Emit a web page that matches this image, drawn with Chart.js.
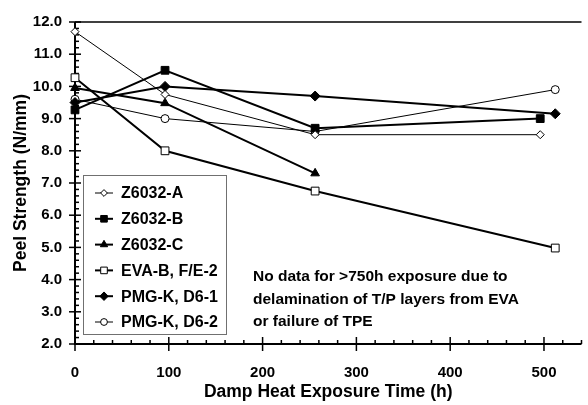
<!DOCTYPE html>
<html>
<head>
<meta charset="utf-8">
<script src="https://cdn.jsdelivr.net/npm/chart.js@4/dist/chart.umd.min.js"></script>
<style>
html,body{margin:0;padding:0;background:#fff}
</style>
</head>
<body>
<canvas id="c" width="588" height="405"></canvas>
<script>
var FONT="'Liberation Sans', Arial, Helvetica, sans-serif";

// exposure times (h)
var hours4=[0,96,256,496];
var hoursEnd=[0,96,256,512];
var hours3=[0,96,256];

// peel strength (N/mm)
var z6032A=[11.7,9.75,8.5,8.5];
var z6032B=[9.27,10.5,8.7,9.0];
var z6032C=[9.95,9.48,7.3];
var evaB=[10.27,8.0,6.75,4.98];
var pmgD61=[9.5,10.0,9.7,9.15];
var pmgD62=[9.6,9.0,8.6,9.9];

var seriesNames=["Z6032-A","Z6032-B","Z6032-C","EVA-B, F/E-2","PMG-K, D6-1","PMG-K, D6-2"];
var xTicks=[0,100,200,300,400,500];
var yTicks=[2,3,4,5,6,7,8,9,10,11,12];
var note=["No data for >750h exposure due to","delamination of T/P layers from EVA","or failure of TPE"];

function pts(xs,ys){
  var out=[];
  for(var i=0;i<ys.length;i++) out.push({x:xs[i],y:ys[i]});
  return out;
}

function ds(label,data,style,radius,filled,lw){
  return {
    label:label,data:data,showLine:true,fill:false,tension:0,clip:false,
    borderColor:"#000",borderWidth:lw,
    pointStyle:style,pointRadius:radius,pointHoverRadius:radius,
    pointBackgroundColor:filled?"#000":"#fff",pointBorderColor:"#000",pointBorderWidth:1
  };
}

var datasets=[
  ds(seriesNames[0],pts(hours4,z6032A),"rectRot",4,false,1),
  ds(seriesNames[1],pts(hours4,z6032B),"rect",5.5,true,2),
  ds(seriesNames[2],pts(hours3,z6032C),"triangle",5,true,2),
  ds(seriesNames[3],pts(hoursEnd,evaB),"rect",5.5,false,2),
  ds(seriesNames[4],pts(hoursEnd,pmgD61),"rectRot",5,true,2),
  ds(seriesNames[5],pts(hoursEnd,pmgD62),"circle",4,false,1)
];

// axes frame with major/minor ticks
var framePlugin={
  id:"frame",
  beforeDatasetsDraw:function(chart){
    var c=chart.ctx,ca=chart.chartArea,sx=chart.scales.x,sy=chart.scales.y;
    c.save();
    c.strokeStyle="#000";
    c.lineWidth=1.5;
    c.beginPath();c.moveTo(ca.left,ca.top);c.lineTo(ca.right,ca.top);c.stroke();
    c.lineWidth=2;
    c.beginPath();c.moveTo(ca.left,ca.top);c.lineTo(ca.left,ca.bottom);c.lineTo(ca.right,ca.bottom);c.stroke();
    c.lineWidth=1.5;
    var i,p;
    for(i=0;i<=27;i++){
      p=sx.getPixelForValue(i*20);
      if(p>ca.right) break;
      c.beginPath();
      if(i%5===0){c.moveTo(p,ca.bottom-7);c.lineTo(p,ca.bottom+7);}
      else{c.moveTo(p,ca.bottom-4);c.lineTo(p,ca.bottom);}
      c.stroke();
    }
    for(i=0;i<=50;i++){
      p=sy.getPixelForValue(2+i*0.2);
      c.beginPath();
      if(i%5===0){c.moveTo(ca.left-6,p);c.lineTo(ca.left+6,p);}
      else{c.moveTo(ca.left,p);c.lineTo(ca.left+4,p);}
      c.stroke();
    }
    c.restore();
  }
};

// boxed legend + note text
var legendPlugin={
  id:"boxLegend",
  afterDraw:function(chart){
    var c=chart.ctx;
    c.save();
    c.fillStyle="#fff";
    c.fillRect(83,175,143,159);
    c.strokeStyle="#707070";c.lineWidth=1;
    c.strokeRect(83.5,175.5,143,159);
    c.font="bold 16px "+FONT;
    c.textBaseline="middle";c.textAlign="left";
    for(var i=0;i<datasets.length;i++){
      var d=datasets[i],cy=193+i*25.8;
      c.strokeStyle="#000";c.lineWidth=d.borderWidth;
      c.beginPath();c.moveTo(95,cy);c.lineTo(113,cy);c.stroke();
      c.fillStyle=d.pointBackgroundColor;c.lineWidth=1;
      Chart.helpers.drawPoint(c,{pointStyle:d.pointStyle,rotation:0,radius:d.pointRadius*0.85,borderWidth:1},104,cy);
      c.fillStyle="#000";
      c.fillText(d.label,121,cy+1);
    }
    c.font="bold 15.5px "+FONT;
    for(var j=0;j<note.length;j++) c.fillText(note[j],253,277+j*22.5);
    c.restore();
  }
};

var tickFont={family:FONT,size:15,weight:"bold"};
var titleFont={family:FONT,size:17.5,weight:"bold"};

new Chart(document.getElementById("c"),{
  type:"scatter",
  data:{datasets:datasets},
  options:{
    responsive:false,animation:false,
    layout:{padding:{top:18,right:0,bottom:0,left:0}},
    plugins:{legend:{display:false},tooltip:{enabled:false}},
    scales:{
      x:{
        type:"linear",min:0,max:540,
        afterBuildTicks:function(s){s.ticks=xTicks.map(function(v){return {value:v}})},
        afterFit:function(s){s.height=61},
        ticks:{font:tickFont,color:"#000",padding:20,maxRotation:0,autoSkip:false},
        grid:{display:false,drawTicks:false},
        border:{display:false},
        title:{display:true,text:"Damp Heat Exposure Time (h)",font:titleFont,color:"#000",padding:{top:4,bottom:2.5}}
      },
      y:{
        type:"linear",min:2,max:12,
        afterBuildTicks:function(s){s.ticks=yTicks.map(function(v){return {value:v}})},
        afterFit:function(s){s.width=75},
        ticks:{font:tickFont,color:"#000",padding:13,callback:function(v){return v.toFixed(1)}},
        grid:{display:false,drawTicks:false},
        border:{display:false},
        title:{display:true,text:"Peel Strength (N/mm)",font:titleFont,color:"#000",padding:{top:10.5,bottom:0}}
      }
    }
  },
  plugins:[framePlugin,legendPlugin]
});
</script>
</body>
</html>
